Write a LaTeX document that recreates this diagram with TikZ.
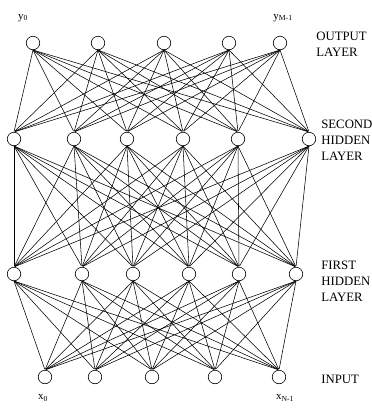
\documentclass[tikz,border=0pt]{standalone}
\usepackage{fontspec}
\setmainfont{Liberation Serif}
\usetikzlibrary{positioning}

\tikzset{
  neuron/.style={circle,draw,minimum size=13.5pt,inner sep=0pt,line width=0.6pt},
  layername/.style={anchor=west,align=left,font=\fontsize{12.8}{16}\selectfont,inner sep=0pt},
  varname/.style={font=\fontsize{11}{13}\selectfont,inner sep=0pt}
}

\begin{document}
\begin{tikzpicture}[x=1pt,y=-1pt,line width=0.55pt,shorten >=1pt]
  \useasboundingbox (0,0) rectangle (372,416);
  % output layer
  \node[neuron] (o1) at (33,43) {};
  \node[neuron] (o2) at (98,43) {};
  \node[neuron] (o3) at (164,43) {};
  \node[neuron] (o4) at (229,43) {};
  \node[neuron] (o5) at (280,43) {};
  % second hidden layer
  \node[neuron] (s1) at (14,139) {};
  \node[neuron] (s2) at (74,139) {};
  \node[neuron] (s3) at (127,139) {};
  \node[neuron] (s4) at (183,139) {};
  \node[neuron] (s5) at (238,139) {};
  \node[neuron] (s6) at (309,139) {};
  % first hidden layer
  \node[neuron] (f1) at (14,274) {};
  \node[neuron] (f2) at (82,274) {};
  \node[neuron] (f3) at (133,274) {};
  \node[neuron] (f4) at (189,274) {};
  \node[neuron] (f5) at (239,274) {};
  \node[neuron] (f6) at (296,274) {};
  % input
  \node[neuron] (i1) at (45,377) {};
  \node[neuron] (i2) at (95,377) {};
  \node[neuron] (i3) at (152,377) {};
  \node[neuron] (i4) at (215,377) {};
  \node[neuron] (i5) at (279,377) {};

  % weights, every node to every node of the next layer
  \foreach \a in {1,...,5}
    \foreach \b in {1,...,6}
      \draw (o\a.south) -- (s\b.north);
  \foreach \a in {1,...,6}
    \foreach \b in {1,...,6}
      \draw (s\a.south) -- (f\b.north);
  \foreach \a in {1,...,6}
    \foreach \b in {1,...,5}
      \draw (f\a.south) -- (i\b.north);

  % variable names
  \node[varname] (y0) at (23,18) {y\textsubscript{0}};
  \node[varname] (yM) at (283,18) {y\textsubscript{M-1}};
  \node[varname] (x0) at (43,398) {x\textsubscript{0}};
  \node[varname] (xN) at (285,398) {x\textsubscript{N-1}};

  % layer names
  \node[layername] (lo) at (316,44) {OUTPUT\\LAYER};
  \node[layername] (ls) at (321,140) {SECOND\\HIDDEN\\LAYER};
  \node[layername] (lf) at (321,281) {FIRST\\HIDDEN\\LAYER};
  \node[layername] (li) at (321,379) {INPUT};
\end{tikzpicture}
\end{document}
